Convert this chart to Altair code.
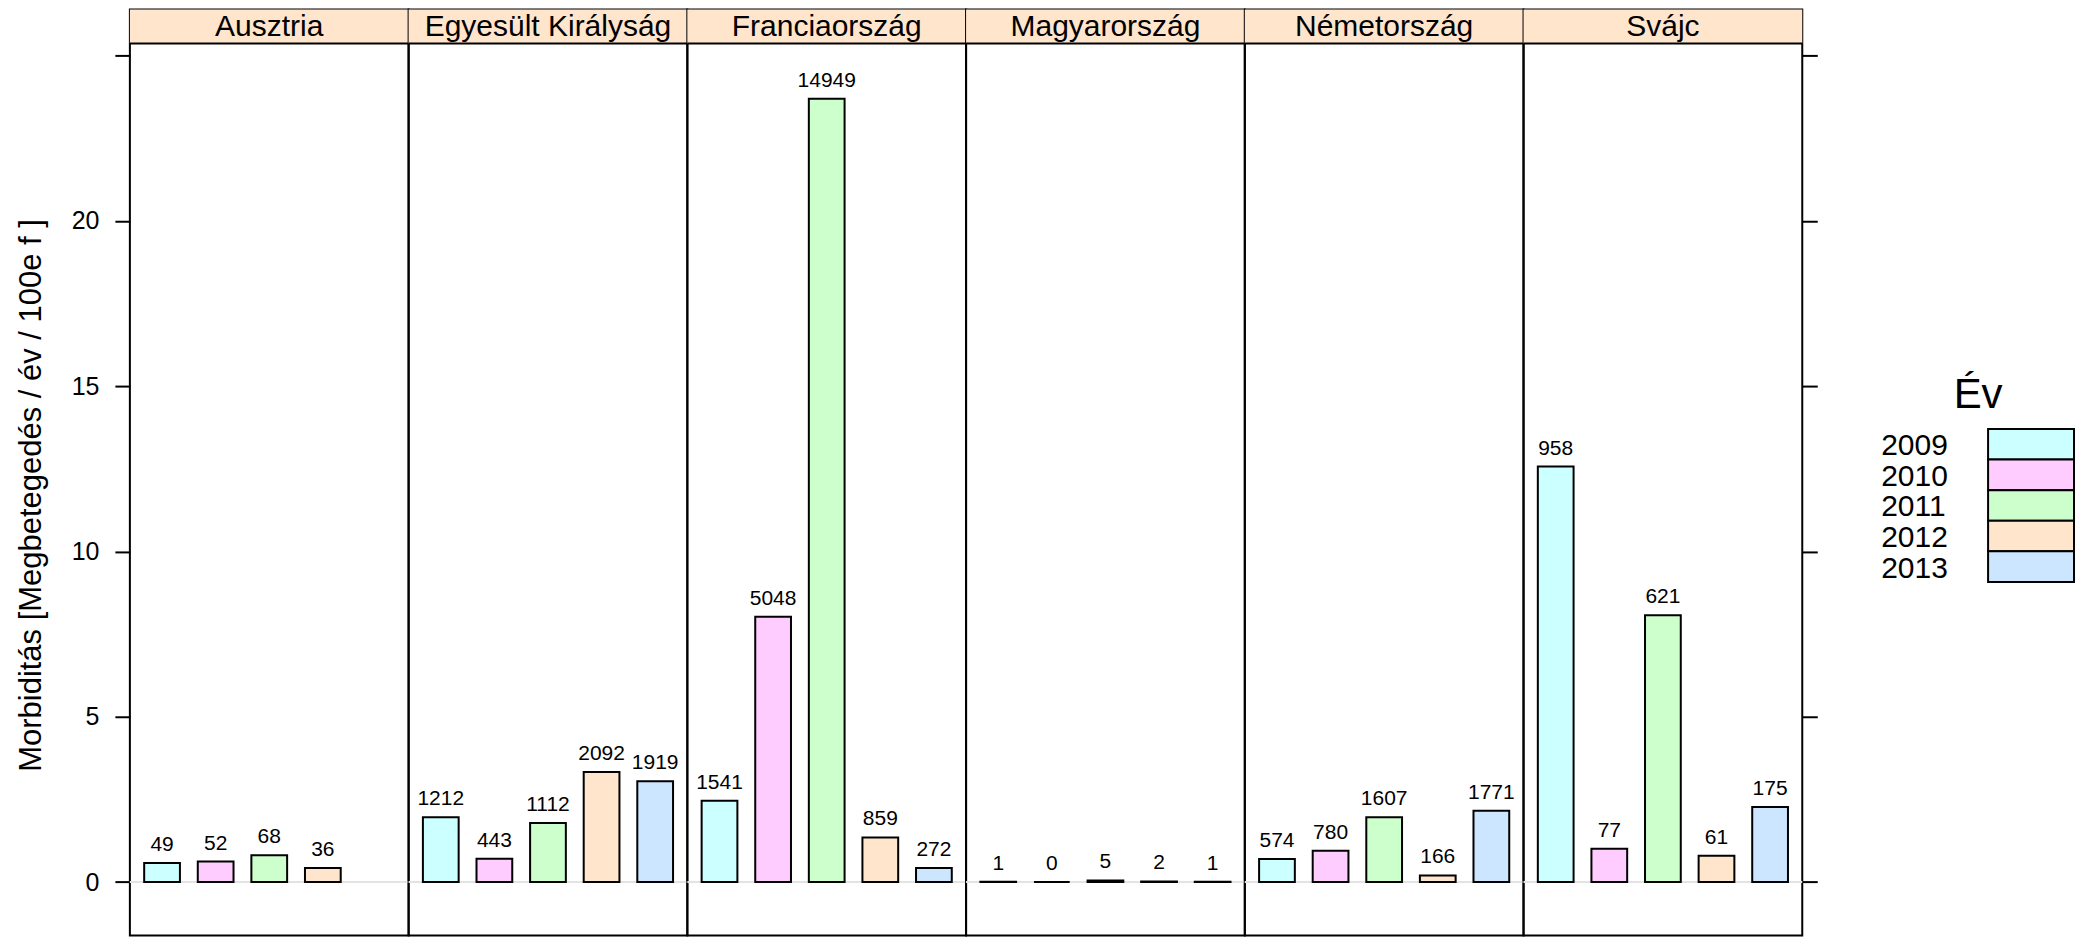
import altair as alt
import pandas as pd

countries = ["Ausztria", "Egyesült Királyság", "Franciaország", "Magyarország", "Németország", "Svájc"]
years = ["2009", "2010", "2011", "2012", "2013"]
colors = ["#CCFFFF", "#FFCCFF", "#CCFFCC", "#FFE5CC", "#CCE6FF"]

morb_ausztria = [0.58, 0.62, 0.81, 0.43, None]
morb_uk = [1.96, 0.71, 1.79, 3.33, 3.05]
morb_fr = [2.46, 8.03, 23.7, 1.35, 0.43]
morb_hu = [0.01, 0.0, 0.05, 0.02, 0.01]
morb_de = [0.70, 0.95, 1.96, 0.20, 2.16]
morb_ch = [12.57, 1.01, 8.07, 0.80, 2.27]

cnt_ausztria = [49, 52, 68, 36, None]
cnt_uk = [1212, 443, 1112, 2092, 1919]
cnt_fr = [1541, 5048, 14949, 859, 272]
cnt_hu = [1, 0, 5, 2, 1]
cnt_de = [574, 780, 1607, 166, 1771]
cnt_ch = [958, 77, 621, 61, 175]

y_ticks = [0, 5, 10, 15, 20, 25]
y_title = "Morbiditás [Megbetegedés / év / 100e f ]"
legend_title = "Év"

morbs = [morb_ausztria, morb_uk, morb_fr, morb_hu, morb_de, morb_ch]
cnts = [cnt_ausztria, cnt_uk, cnt_fr, cnt_hu, cnt_de, cnt_ch]
rows = []
for c, ms, ns in zip(countries, morbs, cnts):
    for y, m, n in zip(years, ms, ns):
        if m is not None:
            rows.append({"country": c, "year": y, "value": m, "count": str(n)})
df = pd.DataFrame(rows)
strip_df = pd.DataFrame({"country": countries})
zero_df = pd.DataFrame({"zero": [0]})
legend_df = pd.DataFrame({"year": years})
title_df = pd.DataFrame({"t": [legend_title]})

FONT = "Liberation Sans"
W = 279
H = 927
STRIP = 34
ymin, ymax = -1.617, 26.398

xscale = alt.Scale(domain=years, paddingInner=0.333, paddingOuter=0.2667)
yscale = alt.Scale(domain=[ymin, ymax], nice=False)
cscale = alt.Scale(domain=years, range=colors)

left_axis = alt.Axis(values=y_ticks, labelExpr="datum.value == 25 ? '' : datum.label",
                     title=y_title, titleX=-89, titleY=486, titleAngle=270,
                     titleBaseline="alphabetic", titleAlign="center")
right_axis = alt.Axis(values=y_ticks, orient="right", labels=False, title=None)


def panel(i, c):
    if i == 0:
        ax = left_axis
    elif i == len(countries) - 1:
        ax = right_axis
    else:
        ax = None
    yk = {"axis": ax}

    zero = alt.Chart(zero_df).mark_rule(color="#E3E3E3", strokeWidth=2).encode(
        y=alt.Y("zero:Q", scale=yscale, **yk),
        x=alt.value(0), x2=alt.value(W))
    base = alt.Chart(df).transform_filter(alt.datum.country == c)
    bars = base.mark_bar(stroke="black", strokeWidth=2, opacity=1).encode(
        x=alt.X("year:N", scale=xscale, axis=None),
        y=alt.Y("value:Q", scale=yscale, **yk),
        color=alt.Color("year:N", scale=cscale, legend=None))
    labels = base.mark_text(font=FONT, fontSize=21, color="black", baseline="alphabetic", dy=-12).encode(
        x=alt.X("year:N", scale=xscale, axis=None),
        y=alt.Y("value:Q", scale=yscale, **yk),
        text="count:N")
    sbase = alt.Chart(strip_df).transform_filter(alt.datum.country == c)
    strip = sbase.mark_rect(fill="#FFE5CC").encode(
        x=alt.value(0), x2=alt.value(W), y=alt.value(0), y2=alt.value(STRIP))
    sline = sbase.mark_rule(color="black", strokeWidth=2).encode(
        x=alt.value(0), x2=alt.value(W), y=alt.value(STRIP), y2=alt.value(STRIP))
    stext = sbase.mark_text(font=FONT, fontSize=30, color="black", baseline="alphabetic").encode(
        x=alt.value(W / 2), y=alt.value(27), text="country:N")
    layers = [zero, bars, labels, strip, sline, stext]
    if i == 0:
        bound = alt.Chart(zero_df).mark_rule(opacity=0).encode(
            x=alt.value(-121), x2=alt.value(-121), y=alt.value(400), y2=alt.value(401))
        layers.append(bound)
    return alt.layer(*layers).properties(width=W, height=H)


panels = [panel(i, c) for i, c in enumerate(countries)]

lscale = alt.Scale(domain=years, range=[420, 573], paddingInner=0, paddingOuter=0)
lboxes = alt.Chart(legend_df).mark_bar(stroke="black", strokeWidth=2).encode(
    y=alt.Y("year:N", scale=lscale, axis=None),
    x=alt.value(186), x2=alt.value(272),
    color=alt.Color("year:N", scale=cscale, legend=None))
llabels = alt.Chart(legend_df).mark_text(font=FONT, fontSize=30, color="black", align="left",
                                         baseline="alphabetic", dy=11).encode(
    y=alt.Y("year:N", scale=lscale, axis=None),
    x=alt.value(79), text="year:N")
ltitle = alt.Chart(title_df).mark_text(font=FONT, fontSize=42, color="black", align="center",
                                       baseline="alphabetic").encode(
    x=alt.value(176), y=alt.value(399), text="t:N")
legend = alt.layer(lboxes, llabels, ltitle).properties(
    width=274, height=H, view=alt.ViewBackground(stroke="transparent", strokeWidth=0))

chart = alt.hconcat(*panels, legend, spacing=0, bounds="flush").properties(
    padding=0
).configure_view(stroke="black", strokeWidth=2).configure_axis(
    labelFont=FONT, labelFontSize=25, labelColor="black", tickColor="black", tickWidth=2,
    tickSize=15, labelPadding=16, domain=False, grid=False,
    titleFont=FONT, titleFontSize=31, titleFontWeight="normal", titleColor="black")

chart.save("out.html", embed_options={"renderer": "svg", "actions": False})
